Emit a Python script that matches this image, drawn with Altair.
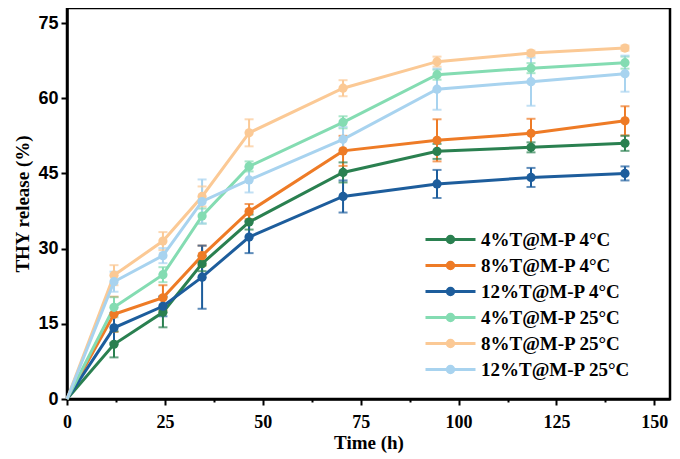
import altair as alt
import pandas as pd

hours = [0, 12, 24.5, 34.5, 46.5, 70.5, 94.5, 118.5, 142.5]

series_names = ["4%T@M-P 4°C", "8%T@M-P 4°C", "12%T@M-P 4°C",
                "4%T@M-P 25°C", "8%T@M-P 25°C", "12%T@M-P 25°C"]
series_colors = ["#2a8050", "#ee7b26", "#1d5d9c", "#84dcb2", "#fbc995", "#a8d3ef"]

g4_4 = [0, 10.9, 17.3, 27.0, 35.3, 45.2, 49.4, 50.2, 51.0]
g4_4_err = [0, 2.6, 3.0, 1.5, 1.5, 2.0, 1.5, 1.0, 1.5]
o8_4 = [0, 16.9, 20.2, 28.6, 37.4, 49.5, 51.6, 53.0, 55.5]
o8_4_err = [0, 3.5, 2.5, 2.0, 1.5, 3.0, 4.2, 2.9, 2.9]
b12_4 = [0, 14.2, 18.5, 24.3, 32.3, 40.4, 42.9, 44.2, 45.0]
b12_4_err = [0, 3.0, 2.0, 6.3, 3.2, 3.2, 2.8, 1.9, 1.4]
lg4_25 = [0, 18.3, 24.8, 36.5, 46.4, 55.2, 64.7, 66.0, 67.1]
lg4_25_err = [0, 2.0, 1.5, 1.5, 1.0, 1.2, 1.0, 1.0, 1.2]
p8_25 = [0, 24.7, 31.5, 40.4, 53.1, 62.0, 67.3, 69.0, 70.0]
p8_25_err = [0, 2.0, 1.8, 2.0, 2.7, 1.6, 1.0, 0.5, 0.5]
lb12_25 = [0, 23.4, 28.6, 39.4, 43.7, 51.8, 61.8, 63.3, 64.9]
lb12_25_err = [0, 2.0, 1.5, 4.4, 2.5, 2.5, 4.1, 4.8, 3.6]

x_ticks = [i * 12.5 for i in range(13)]
y_ticks = [i * 7.5 for i in range(11)]

values = [g4_4, o8_4, b12_4, lg4_25, p8_25, lb12_25]
errors = [g4_4_err, o8_4_err, b12_4_err, lg4_25_err, p8_25_err, lb12_25_err]

rows = []
for k, name in enumerate(series_names):
    for h, v, e in zip(hours, values[k], errors[k]):
        rows.append({"series": name, "order": k, "t": h, "v": v,
                     "lo": v - e, "hi": v + e})
df = pd.DataFrame(rows)

serif = "Liberation Serif"
sans = "Liberation Sans"

legend = alt.Legend(
    title=None,
    orient="none",
    legendX=374,
    legendY=222,
    symbolType="M-5,0H5M-0.65,0A0.65,0.65 0 1 1 0.65,0A0.65,0.65 0 1 1 -0.65,0Z",
    symbolSize=100,
    symbolStrokeWidth=3,
    labelFont=serif,
    labelFontSize=19,
    labelFontWeight="bold",
    labelColor="black",
    labelOffset=21,
    rowPadding=6,
    symbolOpacity=1,
)

color = alt.Color(
    "series:N",
    scale=alt.Scale(domain=series_names, range=series_colors),
    sort=series_names,
    legend=legend,
)

x_enc = alt.X(
    "t:Q",
    scale=alt.Scale(domain=[0, 154], nice=False),
    axis=alt.Axis(
        values=x_ticks,
        labelExpr="datum.value % 25 === 0 ? datum.label : ''",
        title="Time (h)",
        titleFont=serif,
        titleFontSize=19,
        titleFontWeight="bold",
        titleColor="black",
        titlePadding=2,
        labelFont=serif,
        labelFontSize=18,
        labelFontWeight="bold",
        labelColor="black",
        labelPadding=8,
        domainColor="black",
        domainWidth=2.5,
        tickColor="black",
        tickWidth=2,
        tickSize={"condition": {"test": "datum.value % 25 !== 0", "value": 3}, "value": 6},
        grid=False,
        labelFlush=False,
    ),
)
y_enc = alt.Y(
    "v:Q",
    scale=alt.Scale(domain=[0, 78], nice=False),
    axis=alt.Axis(
        values=y_ticks,
        labelExpr="datum.value % 15 === 0 ? datum.label : ''",
        title="THY release (%)",
        titleFont=serif,
        titleFontSize=19,
        titleFontWeight="bold",
        titleColor="black",
        titlePadding=5,
        labelFont=sans,
        labelFontSize=18,
        labelFontWeight="bold",
        labelColor="black",
        labelPadding=3,
        domainColor="black",
        domainWidth=2.5,
        tickColor="black",
        tickWidth=2,
        tickSize={"condition": {"test": "datum.value % 15 !== 0", "value": 3}, "value": 6},
        grid=False,
        labelFlush=False,
    ),
)

base = alt.Chart(df)

lines = base.mark_line(strokeWidth=3).encode(
    x=x_enc, y=y_enc, color=color, detail="series:N",
    order="t:Q",
)

pts_df = df[df["t"] > 0]
ptbase = alt.Chart(pts_df)

err_rules = ptbase.mark_rule(strokeWidth=2).encode(
    x="t:Q", y="lo:Q", y2="hi:Q", color=color,
)
caps_lo = ptbase.mark_tick(orient="horizontal", size=9, thickness=2).encode(
    x="t:Q", y="lo:Q", color=color,
)
caps_hi = ptbase.mark_tick(orient="horizontal", size=9, thickness=2).encode(
    x="t:Q", y="hi:Q", color=color,
)
points = ptbase.mark_circle(size=85, opacity=1).encode(
    x="t:Q", y="v:Q", color=color,
)

chart = alt.layer(err_rules, caps_lo, caps_hi, lines, points).properties(
    width=603,
    height=391,
    autosize=alt.AutoSizeParams(type="none"),
    padding={"left": 59, "top": 0, "right": 2, "bottom": 57},
    background="white",
).configure_view(
    stroke="black",
    strokeWidth=2.5,
)

chart.save("out.html", embed_options={"renderer": "svg", "actions": False})
